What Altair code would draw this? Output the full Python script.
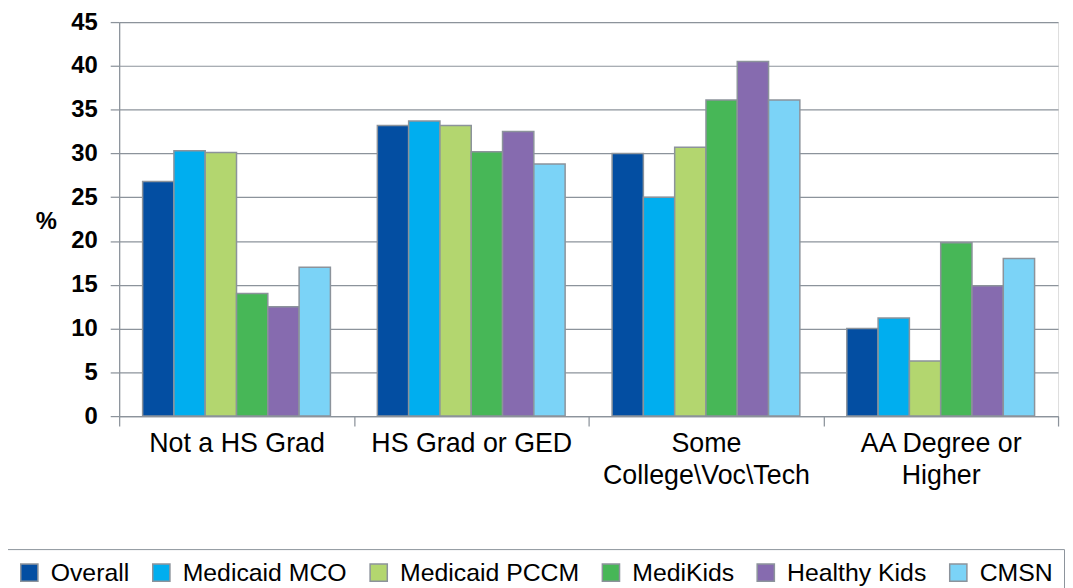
import altair as alt
import pandas as pd

categories = ["Not a HS Grad", "HS Grad or GED", "Some\nCollege\\Voc\\Tech", "AA Degree or\nHigher"]
series = ["Overall", "Medicaid MCO", "Medicaid PCCM", "MediKids", "Healthy Kids", "CMSN"]
overall = [26.8, 33.2, 30.0, 10.0]
medicaid_mco = [30.3, 33.7, 25.0, 11.2]
medicaid_pccm = [30.1, 33.2, 30.7, 6.3]
medikids = [14.0, 30.2, 36.1, 19.8]
healthy_kids = [12.5, 32.5, 40.5, 14.9]
cmsn = [17.0, 28.8, 36.1, 18.0]
colors = ["#034EA2", "#00AEEF", "#B3D66F", "#47B757", "#866BAF", "#7BD3F7"]
y_ticks = [0, 5, 10, 15, 20, 25, 30, 35, 40, 45]

values = [overall, medicaid_mco, medicaid_pccm, medikids, healthy_kids, cmsn]
rows = []
for s, vals in zip(series, values):
    for c, v in zip(categories, vals):
        rows.append({"Education": c, "Plan": s, "Percent": v})
df = pd.DataFrame(rows)

GRAY = "#8C939B"
FONT = "Liberation Sans"

chart = alt.Chart(df).mark_bar(stroke=GRAY, strokeWidth=1.5).encode(
    x=alt.X(
        "Education:N",
        sort=categories,
        scale=alt.Scale(paddingInner=0, paddingOuter=0),
        axis=alt.Axis(
            title=None,
            labelAngle=0,
            tickBand="extent",
            labelExpr="split(datum.label, '\\n')",
            labelFontSize=27,
            labelLineHeight=32,
            labelLimit=0,
            labelColor="#000000",
            labelFont=FONT,
            tickSize=10,
            tickColor=GRAY,
            tickWidth=1.25,
            domainColor=GRAY,
            domainWidth=1.25,
            labelPadding=5,
            grid=False,
        ),
    ),
    xOffset=alt.XOffset(
        "Plan:N",
        sort=series,
        scale=alt.Scale(paddingInner=0, paddingOuter=0.75),
    ),
    y=alt.Y(
        "Percent:Q",
        scale=alt.Scale(domain=[0, 45], nice=False),
        axis=alt.Axis(
            values=y_ticks,
            title="%",
            titleAngle=0,
            titleAlign="center",
            titleBaseline="middle",
            titleX=-74,
            titleY=201,
            titleFontSize=24,
            titleFontWeight="bold",
            titleFont=FONT,
            titleColor="#000000",
            labelFontSize=24,
            labelFontWeight="bold",
            labelFont=FONT,
            labelColor="#000000",
            labelPadding=13,
            tickSize=9,
            tickColor=GRAY,
            tickWidth=1.25,
            domainColor=GRAY,
            domainWidth=1.25,
            gridColor=GRAY,
            gridWidth=1.25,
        ),
    ),
    color=alt.Color(
        "Plan:N",
        sort=series,
        scale=alt.Scale(domain=series, range=colors),
        legend=alt.Legend(
            title=None,
            orient="none",
            legendX=-114,
            legendY=531,
            direction="horizontal",
            columns=6,
            labelFontSize=25,
            labelFont=FONT,
            labelColor="#000000",
            labelLimit=0,
            symbolType="square",
            symbolSize=300,
            symbolStrokeColor=GRAY,
            symbolStrokeWidth=1.5,
            labelOffset=9,
            columnPadding=19,
            padding=11,
            strokeColor=GRAY,
            fillColor="#FFFFFF",
        ),
    ),
).properties(
    width=946,
    height=397,
    autosize=alt.AutoSizeParams(type="none"),
    padding={"left": 112, "top": 12, "right": 7, "bottom": 171},
).configure_view(
    stroke=GRAY, strokeWidth=1.25
).configure(
    font=FONT
)

chart.save("out.html", embed_options={"renderer": "svg", "actions": False})
